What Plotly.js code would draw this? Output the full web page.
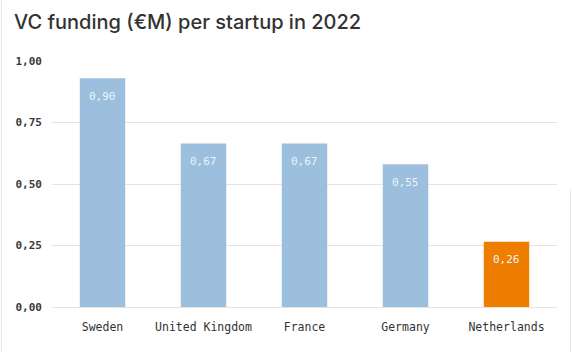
<!DOCTYPE html>
<html>
<head>
<meta charset="utf-8">
<script src="https://cdn.plot.ly/plotly-3.0.1.min.js"></script>
<style>
  html, body { margin: 0; padding: 0; background: #fff; }
  #wrap { position: relative; width: 572px; height: 352px; }
  #chart { width: 572px; height: 352px; }
  .edge { position: absolute; width: 1px; background: #e8e8e8; }
</style>
</head>
<body>
<div id="wrap">
  <div id="chart"></div>
  <div class="edge" style="left:1px; top:0; height:352px;"></div>
  <div class="edge" style="left:570px; top:190px; height:162px;"></div>
</div>
<script>
const categories = ["Sweden", "United Kingdom", "France", "Germany", "Netherlands"];
const values = [0.93, 0.665, 0.665, 0.58, 0.265];
const valueLabels = ["0,90", "0,67", "0,67", "0,55", "0,26"];
const barColors = ["#9bbfdc", "#9bbfdc", "#9bbfdc", "#9bbfdc", "#ef7d00"];
const yTicks = [0, 0.25, 0.5, 0.75, 1];

const mono = "DejaVu Sans Mono, monospace";

const trace = {
  type: "bar",
  x: categories,
  y: values,
  marker: { color: barColors, line: { width: 0 } },
  hoverinfo: "none"
};

const annotations = categories.map((c, i) => ({
  x: c, y: values[i], xref: "x", yref: "y",
  text: valueLabels[i], showarrow: false,
  yshift: -18, yanchor: "middle",
  font: { family: mono, size: 11, color: "#eef3f8" }
}));

const layout = {
  width: 572, height: 352,
  margin: { l: 52, r: 15, t: 61, b: 45 },
  paper_bgcolor: "#ffffff",
  plot_bgcolor: "#ffffff",
  separators: ", ",
  bargap: 0.55,
  showlegend: false,
  title: {
    text: "VC funding (€M) per startup in 2022",
    x: 14 / 572, xref: "container", xanchor: "left",
    y: 1 - 22 / 352, yref: "container", yanchor: "middle",
    font: { family: "Inter, Roboto, sans-serif", size: 20, color: "#333333", weight: 500 }
  },
  xaxis: {
    type: "category",
    showgrid: false, zeroline: false, showline: false,
    ticks: "", ticklabelstandoff: 11,
    tickfont: { family: mono, size: 11.5, color: "#333333" }
  },
  yaxis: {
    range: [0, 1],
    tickvals: yTicks, tickformat: ".2f",
    showgrid: true, gridcolor: "#e6e4dd", gridwidth: 1,
    zeroline: true, zerolinecolor: "#e6e4dd", zerolinewidth: 1,
    showline: false, ticks: "", ticklabelstandoff: 9,
    tickfont: { family: mono, size: 11, color: "#3a3a3a", weight: "bold" }
  },
  annotations: annotations
};

Plotly.newPlot("chart", [trace], layout, { displayModeBar: false, staticPlot: true });
</script>
</body>
</html>
